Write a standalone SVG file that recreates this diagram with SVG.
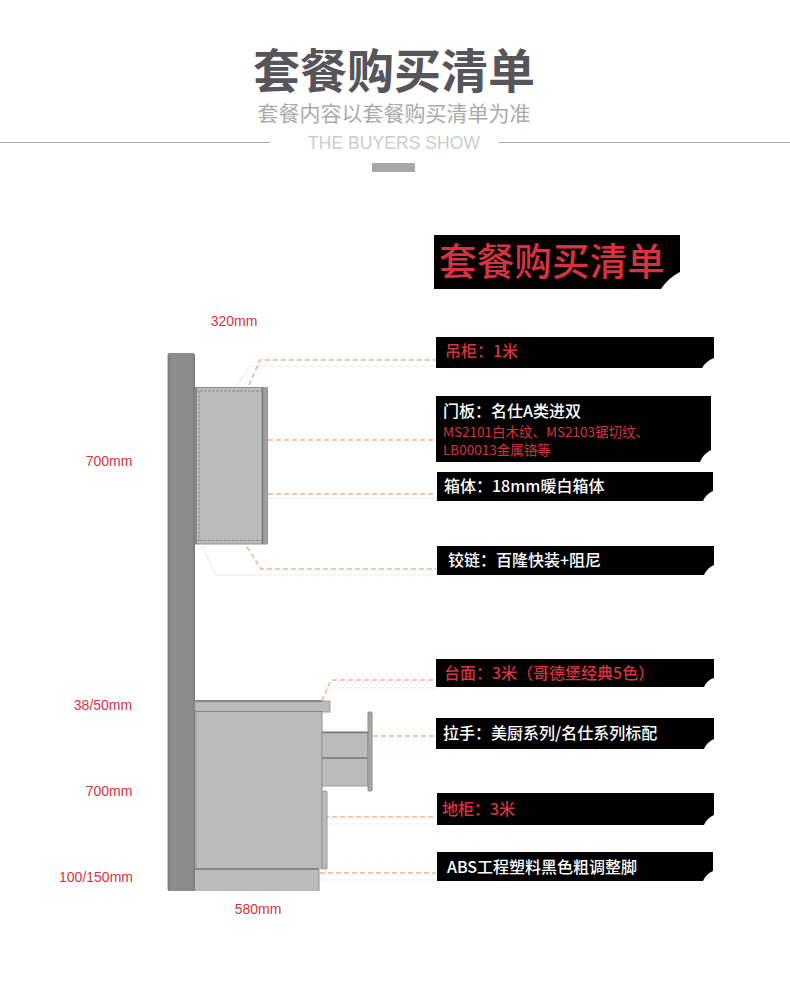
<svg xmlns="http://www.w3.org/2000/svg" width="790" height="1000" viewBox="0 0 790 1000">
<style>
text{font-family:"Noto Sans CJK SC","Liberation Sans",sans-serif}
.dim{font-size:14px;fill:#d8323f;font-family:"Liberation Sans","Noto Sans CJK SC",sans-serif;text-anchor:middle}
.lb{font-size:16px;font-weight:500}
.w{fill:#fff}.r{fill:#d8323f}
.ld{fill:none;stroke:#edb48e;stroke-width:1.5;stroke-dasharray:5 3}
.sh{fill:none;stroke:#f3f3f3;stroke-width:1.5}
.ln{stroke:#777;stroke-width:1.5;fill:none}
.li{stroke:#8f8f8f;stroke-width:1;fill:none}
.curl{fill:#fff}
</style>
<g id="header">
<text x="394" y="88" font-size="47" font-weight="700" fill="#55555a" text-anchor="middle">套餐购买清单</text>
<text x="394" y="121" font-size="21" fill="#aaa" text-anchor="middle">套餐内容以套餐购买清单为准</text>
<path d="M0 142.500H270M499 142.500H790" stroke="#aaa" stroke-width="1" fill="none"/>
<text x="394" y="149" font-size="17.500" fill="#ccc" text-anchor="middle" textLength="172" style="font-family:'Liberation Sans',sans-serif">THE BUYERS SHOW</text>
<rect x="372" y="163" width="43" height="9" fill="#a8a8a8"/>
</g>
<g id="title"><rect x="434" y="235" width="246" height="54" fill="#000"/><path class="curl" d="M661 289Q668 278 680 272V289Z"/>
<text x="439" y="275" font-size="38" font-weight="500" class="r" textLength="226" lengthAdjust="spacingAndGlyphs">套餐购买清单</text></g>
<g id="connectors">
<path class="sh" d="M236 387L250 366H436M202 546L216 575H436M268 498H436M330 688H436M329 824H436M322 880H436"/>
<path class="ld" d="M249 385L260 360H436M268 440H436M268 494H436M247 547L261 569H436M322 701L331 680H436M373 736H436M324 817H436M320 873H436"/>
</g>
<g id="cabinet">
<rect x="167.500" y="353" width="27.500" height="538" rx="2" fill="#8c8c8c" stroke="none"/>
<path d="M169 355V891M194 355V891" stroke="#7a7a7a" stroke-width="1.500" fill="none"/>
<rect x="195" y="387" width="72" height="157" fill="#bbb"/>
<path class="li" d="M195 387.500H267.500V544H195"/>
<path class="ln" d="M196 387V544"/>
<path class="li" d="M199 391V541M196 391H262M196 540.500H262" stroke-dasharray="3 1"/>
<rect x="262" y="387" width="5.500" height="157" fill="#a0a0a0"/>
<path class="ln" d="M262.500 387V544"/>
<rect x="195" y="701" width="135" height="11" fill="#bbb" stroke="#a0a0a0"/>
<path class="ln" d="M195 701H322M195 712H322"/>
<rect x="195" y="712" width="127" height="157" fill="#bbb"/>
<path class="li" d="M322 712V869M196 712V891"/>
<rect x="195" y="869" width="124" height="22" fill="#bbb"/>
<path class="ln" d="M195 869H319"/><path class="li" d="M319 869V891"/>
<rect x="322" y="732" width="46" height="54" fill="#bbb" stroke="#999"/>
<path class="ln" d="M322 732.500H368M322 758H368"/>
<rect x="368" y="712" width="4" height="79" rx="1" fill="#aaa" stroke="#888"/>
<rect x="322" y="791" width="5" height="78" rx="1" fill="#bbb" stroke="#999"/>
</g>
<g id="n1"><rect x="436" y="337" width="278" height="31" fill="#000"/><path class="curl" d="M702 368Q706 361 714 358V368Z"/><text class="lb r" x="445" y="357">吊柜：1米</text></g>
<g id="n2"><rect x="436" y="396" width="275" height="66" fill="#000"/><path class="curl" d="M700 462Q703 454 711 450V462Z"/><text class="lb w" x="443" y="417">门板：名仕A类进双</text>
<text x="443" y="437" font-size="13.500" class="r">MS2101白木纹、MS2103锯切纹、</text><text x="443" y="455" font-size="13.500" class="r">LB00013金属铬等</text></g>
<g id="n3"><rect x="437" y="472" width="276" height="29" fill="#000"/><path class="curl" d="M703 501Q706 494 713 491V501Z"/><text class="lb w" x="444" y="492">箱体：18mm暖白箱体</text></g>
<g id="n4"><rect x="437" y="546" width="277" height="29" fill="#000"/><path class="curl" d="M704 575Q707 568 714 565V575Z"/><text class="lb w" x="448" y="566">铰链：百隆快装+阻尼</text></g>
<g id="n5"><rect x="436" y="659" width="278" height="28" fill="#000"/><path class="curl" d="M704 687Q707 680 714 678V687Z"/><text class="lb r" x="444" y="679">台面：3米（哥德堡经典5色）</text></g>
<g id="n6"><rect x="436" y="718" width="278" height="31" fill="#000"/><path class="curl" d="M704 749Q707 742 714 739V749Z"/><text class="lb w" x="443" y="739">拉手：美厨系列/名仕系列标配</text></g>
<g id="n7"><rect x="437" y="793" width="277" height="32" fill="#000"/><path class="curl" d="M704 825Q707 818 714 815V825Z"/><text class="lb r" x="442" y="815">地柜：3米</text></g>
<g id="n8"><rect x="437" y="852" width="276" height="29" fill="#000"/><path class="curl" d="M703 881Q706 874 713 871V881Z"/><text class="lb w" x="447" y="873">ABS工程塑料黑色粗调整脚</text></g>
<g id="dims">
<text class="dim" x="234" y="326">320mm</text>
<text class="dim" x="109" y="466">700mm</text>
<text class="dim" x="103" y="710">38/50mm</text>
<text class="dim" x="109" y="796">700mm</text>
<text class="dim" x="96" y="882">100/150mm</text>
<text class="dim" x="258" y="914">580mm</text>
</g>
</svg>
